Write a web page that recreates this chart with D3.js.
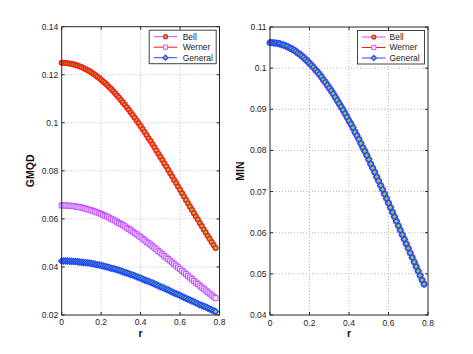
<!DOCTYPE html>
<html>
<head>
<meta charset="utf-8">
<script src="https://cdn.jsdelivr.net/npm/d3@7"></script>
<style>
	body { margin: 0; background: #fff; }
	svg { display: block; font-family: "Liberation Sans", Arial, sans-serif; }
	.tick-label { font-size: 8.5px; fill: #222; }
	.axis-title { font-size: 10.5px; font-weight: bold; fill: #111; }
	.grid { stroke: #b8b8b8; stroke-width: 1; stroke-dasharray: 1,2; }
	.frame { fill: none; stroke: #262626; stroke-width: 1; }
	.legend-text { font-size: 8.5px; fill: #222; }
</style>
</head>
<body>
<div class="chart"></div>
<script>
var rValues = [0, 0.01, 0.02, 0.03, 0.04, 0.05, 0.06, 0.07, 0.08, 0.09,
	0.10, 0.11, 0.12, 0.13, 0.14, 0.15, 0.16, 0.17, 0.18, 0.19,
	0.20, 0.21, 0.22, 0.23, 0.24, 0.25, 0.26, 0.27, 0.28, 0.29,
	0.30, 0.31, 0.32, 0.33, 0.34, 0.35, 0.36, 0.37, 0.38, 0.39,
	0.40, 0.41, 0.42, 0.43, 0.44, 0.45, 0.46, 0.47, 0.48, 0.49,
	0.50, 0.51, 0.52, 0.53, 0.54, 0.55, 0.56, 0.57, 0.58, 0.59,
	0.60, 0.61, 0.62, 0.63, 0.64, 0.65, 0.66, 0.67, 0.68, 0.69,
	0.70, 0.71, 0.72, 0.73, 0.74, 0.75, 0.76, 0.77, 0.78]

var bellGmqd = [0.1250, 0.1250, 0.1249, 0.1248, 0.1247, 0.1245, 0.1243, 0.1241, 0.1238, 0.1235,
	0.1232, 0.1228, 0.1224, 0.1220, 0.1215, 0.1210, 0.1204, 0.1199, 0.1192, 0.1186,
	0.1179, 0.1172, 0.1165, 0.1157, 0.1149, 0.1141, 0.1132, 0.1124, 0.1114, 0.1105,
	0.1095, 0.1085, 0.1075, 0.1065, 0.1054, 0.1043, 0.1032, 0.1021, 0.1009, 0.0998,
	0.0986, 0.0974, 0.0962, 0.0949, 0.0936, 0.0924, 0.0911, 0.0898, 0.0885, 0.0871,
	0.0858, 0.0845, 0.0831, 0.0818, 0.0804, 0.0790, 0.0776, 0.0762, 0.0749, 0.0735,
	0.0721, 0.0707, 0.0693, 0.0679, 0.0665, 0.0651, 0.0638, 0.0624, 0.0610, 0.0597,
	0.0583, 0.0570, 0.0556, 0.0543, 0.0530, 0.0517, 0.0504, 0.0491, 0.0479]

var wernerGmqd = [0.0656, 0.0656, 0.0656, 0.0655, 0.0655, 0.0654, 0.0653, 0.0652, 0.0650, 0.0649,
	0.0647, 0.0645, 0.0643, 0.0641, 0.0638, 0.0636, 0.0633, 0.0630, 0.0627, 0.0624,
	0.0621, 0.0617, 0.0613, 0.0610, 0.0606, 0.0601, 0.0597, 0.0593, 0.0588, 0.0583,
	0.0579, 0.0574, 0.0569, 0.0563, 0.0558, 0.0553, 0.0547, 0.0541, 0.0536, 0.0530,
	0.0524, 0.0518, 0.0512, 0.0505, 0.0499, 0.0493, 0.0486, 0.0480, 0.0473, 0.0466,
	0.0460, 0.0453, 0.0446, 0.0439, 0.0433, 0.0426, 0.0419, 0.0412, 0.0405, 0.0398,
	0.0391, 0.0384, 0.0377, 0.0370, 0.0363, 0.0356, 0.0349, 0.0342, 0.0335, 0.0329,
	0.0322, 0.0315, 0.0309, 0.0302, 0.0295, 0.0289, 0.0282, 0.0276, 0.0270]

var generalGmqd = [0.0425, 0.0425, 0.0425, 0.0425, 0.0424, 0.0424, 0.0423, 0.0423, 0.0422, 0.0421,
	0.0420, 0.0419, 0.0418, 0.0417, 0.0416, 0.0414, 0.0413, 0.0411, 0.0409, 0.0408,
	0.0406, 0.0404, 0.0402, 0.0400, 0.0398, 0.0395, 0.0393, 0.0391, 0.0388, 0.0386,
	0.0383, 0.0380, 0.0377, 0.0375, 0.0372, 0.0369, 0.0366, 0.0363, 0.0359, 0.0356,
	0.0353, 0.0350, 0.0346, 0.0343, 0.0340, 0.0336, 0.0333, 0.0329, 0.0326, 0.0322,
	0.0318, 0.0315, 0.0311, 0.0307, 0.0304, 0.0300, 0.0296, 0.0292, 0.0288, 0.0285,
	0.0281, 0.0277, 0.0273, 0.0270, 0.0266, 0.0262, 0.0258, 0.0255, 0.0251, 0.0247,
	0.0243, 0.0240, 0.0236, 0.0233, 0.0229, 0.0225, 0.0222, 0.0218, 0.0215]

// MIN is the same for all three states, the curves sit on top of each other
var minValues = [0.1062, 0.1062, 0.1061, 0.1061, 0.1060, 0.1059, 0.1057, 0.1056, 0.1054, 0.1052,
	0.1049, 0.1047, 0.1044, 0.1041, 0.1037, 0.1034, 0.1030, 0.1026, 0.1021, 0.1017,
	0.1012, 0.1007, 0.1002, 0.0996, 0.0991, 0.0985, 0.0979, 0.0972, 0.0966, 0.0959,
	0.0952, 0.0945, 0.0938, 0.0930, 0.0922, 0.0914, 0.0906, 0.0898, 0.0890, 0.0881,
	0.0872, 0.0864, 0.0855, 0.0845, 0.0836, 0.0827, 0.0817, 0.0807, 0.0798, 0.0788,
	0.0778, 0.0767, 0.0757, 0.0747, 0.0736, 0.0726, 0.0715, 0.0705, 0.0694, 0.0683,
	0.0672, 0.0661, 0.0650, 0.0639, 0.0628, 0.0617, 0.0606, 0.0595, 0.0584, 0.0573,
	0.0562, 0.0551, 0.0540, 0.0529, 0.0518, 0.0507, 0.0496, 0.0485, 0.0475]

var seriesNames = ["Bell", "Werner", "General"]
var xTicks = [0, 0.2, 0.4, 0.6, 0.8]
var xTickLabels = ["0", "0.2", "0.4", "0.6", "0.8"]
var gmqdTicks = [0.02, 0.04, 0.06, 0.08, 0.1, 0.12, 0.14]
var gmqdTickLabels = ["0.02", "0.04", "0.06", "0.08", "0.1", "0.12", "0.14"]
var minTicks = [0.04, 0.05, 0.06, 0.07, 0.08, 0.09, 0.1, 0.11]
var minTickLabels = ["0.04", "0.05", "0.06", "0.07", "0.08", "0.09", "0.1", "0.11"]

Chart = {};

Chart.violet = "#c04cff";
Chart.red = "#ff1a1a";
Chart.blue = "#1f4cff";
Chart.green = "#8fd03a";

// line colour / marker per series, same as the matlab legend
Chart.styles = {
	Bell: { line: Chart.violet, marker: "circle", stroke: Chart.red, fill: Chart.green, sw: 1.5 },
	Werner: { line: Chart.red, marker: "square", stroke: Chart.violet, fill: "#f3e2ff", sw: 1 },
	General: { line: Chart.blue, marker: "diamond", stroke: Chart.blue, fill: Chart.green, sw: 1.4 }
};

Chart.markerPath = function (type) {
	if (type == "circle") {
		return "M-2.3,0A2.3,2.3 0 1,0 2.3,0A2.3,2.3 0 1,0 -2.3,0Z";
	}
	if (type == "square") {
		return "M-2.5,-2.5H2.5V2.5H-2.5Z";
	}
	return "M0,-3L3,0L0,3L-3,0Z";
}

Chart.drawPanel = function (svg, opts) {
	var g = svg.append("g")
		.attr("transform", "translate(" + opts.left + "," + opts.top + ")");

	var x = d3.scaleLinear()
		.domain([0, 0.8])
		.range([0, opts.width]);

	var y = d3.scaleLinear()
		.domain(opts.yDomain)
		.range([opts.height, 0]);

	// dotted grid
	g.selectAll(".gx")
		.data(xTicks.slice(1, -1))
		.enter().append("line")
		.attr("class", "grid")
		.attr("x1", function (d) { return x(d); })
		.attr("x2", function (d) { return x(d); })
		.attr("y1", 0)
		.attr("y2", opts.height);

	g.selectAll(".gy")
		.data(opts.yTicks.slice(1, -1))
		.enter().append("line")
		.attr("class", "grid")
		.attr("x1", 0)
		.attr("x2", opts.width)
		.attr("y1", function (d) { return y(d); })
		.attr("y2", function (d) { return y(d); });

	// inward ticks on all four sides
	var tl = 3;
	xTicks.forEach(function (t) {
		g.append("line").attr("class", "frame")
			.attr("x1", x(t)).attr("x2", x(t)).attr("y1", opts.height).attr("y2", opts.height - tl);
		g.append("line").attr("class", "frame")
			.attr("x1", x(t)).attr("x2", x(t)).attr("y1", 0).attr("y2", tl);
	});
	opts.yTicks.forEach(function (t) {
		g.append("line").attr("class", "frame")
			.attr("x1", 0).attr("x2", tl).attr("y1", y(t)).attr("y2", y(t));
		g.append("line").attr("class", "frame")
			.attr("x1", opts.width).attr("x2", opts.width - tl).attr("y1", y(t)).attr("y2", y(t));
	});

	g.selectAll(".xl")
		.data(xTicks)
		.enter().append("text")
		.attr("class", "tick-label")
		.attr("text-anchor", "middle")
		.attr("x", function (d) { return x(d); })
		.attr("y", opts.height + 10.5)
		.text(function (d, i) { return xTickLabels[i]; });

	g.selectAll(".yl")
		.data(opts.yTicks)
		.enter().append("text")
		.attr("class", "tick-label")
		.attr("text-anchor", "end")
		.attr("x", -3.5)
		.attr("y", function (d) { return y(d); })
		.attr("dy", "0.35em")
		.text(function (d, i) { return opts.yTickLabels[i]; });

	// series
	var line = d3.line()
		.x(function (d) { return x(d[0]); })
		.y(function (d) { return y(d[1]); });

	opts.series.forEach(function (s) {
		var st = Chart.styles[s.name];
		var pts = rValues.map(function (r, i) { return [r, s.values[i]]; });
		g.append("path")
			.attr("d", line(pts))
			.attr("fill", "none")
			.attr("stroke", st.line)
			.attr("stroke-width", 1);
		g.selectAll(".m-" + s.name)
			.data(pts)
			.enter().append("path")
			.attr("d", Chart.markerPath(st.marker))
			.attr("transform", function (d) { return "translate(" + x(d[0]) + "," + y(d[1]) + ")"; })
			.attr("fill", st.fill)
			.attr("stroke", st.stroke)
			.attr("stroke-width", st.sw);
	});

	g.append("rect")
		.attr("class", "frame")
		.attr("width", opts.width)
		.attr("height", opts.height);

	g.append("text")
		.attr("class", "axis-title")
		.attr("text-anchor", "middle")
		.attr("x", opts.width / 2)
		.attr("y", opts.height + 22)
		.text("r");

	g.append("text")
		.attr("class", "axis-title")
		.attr("text-anchor", "middle")
		.attr("transform", "translate(" + opts.yTitleX + "," + opts.height / 2 + ") rotate(-90)")
		.text(opts.yTitle);

	// legend
	var lg = g.append("g")
		.attr("transform", "translate(" + opts.legendX + ",3.5)");
	lg.append("rect")
		.attr("width", 67)
		.attr("height", 33.5)
		.attr("fill", "#fff")
		.attr("stroke", "#444")
		.attr("stroke-width", 1);
	seriesNames.forEach(function (name, i) {
		var st = Chart.styles[name];
		var ly = 6.5 + i * 10.5;
		lg.append("line")
			.attr("x1", 4.5).attr("x2", 28)
			.attr("y1", ly).attr("y2", ly)
			.attr("stroke", st.line)
			.attr("stroke-width", 1);
		lg.append("path")
			.attr("d", Chart.markerPath(st.marker))
			.attr("transform", "translate(16.3," + ly + ") scale(0.85)")
			.attr("fill", st.fill)
			.attr("stroke", st.stroke)
			.attr("stroke-width", st.sw);
		lg.append("text")
			.attr("class", "legend-text")
			.attr("x", opts.legendTextX)
			.attr("y", ly)
			.attr("dy", "0.35em")
			.text(name);
	});
}

var svg = d3.select(".chart").append("svg")
	.attr("width", 473)
	.attr("height", 354);

Chart.drawPanel(svg, {
	left: 61.7, top: 26.7, width: 157.8, height: 288.3,
	yDomain: [0.02, 0.14], yTicks: gmqdTicks, yTickLabels: gmqdTickLabels,
	yTitle: "GMQD", yTitleX: -28,
	legendX: 87.5, legendTextX: 33.5,
	series: [
		{ name: "Bell", values: bellGmqd },
		{ name: "Werner", values: wernerGmqd },
		{ name: "General", values: generalGmqd }
	]
});

Chart.drawPanel(svg, {
	left: 270, top: 27, width: 158, height: 288,
	yDomain: [0.04, 0.11], yTicks: minTicks, yTickLabels: minTickLabels,
	yTitle: "MIN", yTitleX: -26,
	legendX: 87.5, legendTextX: 32,
	series: [
		{ name: "Bell", values: minValues },
		{ name: "Werner", values: minValues },
		{ name: "General", values: minValues }
	]
});
</script>
</body>
</html>
